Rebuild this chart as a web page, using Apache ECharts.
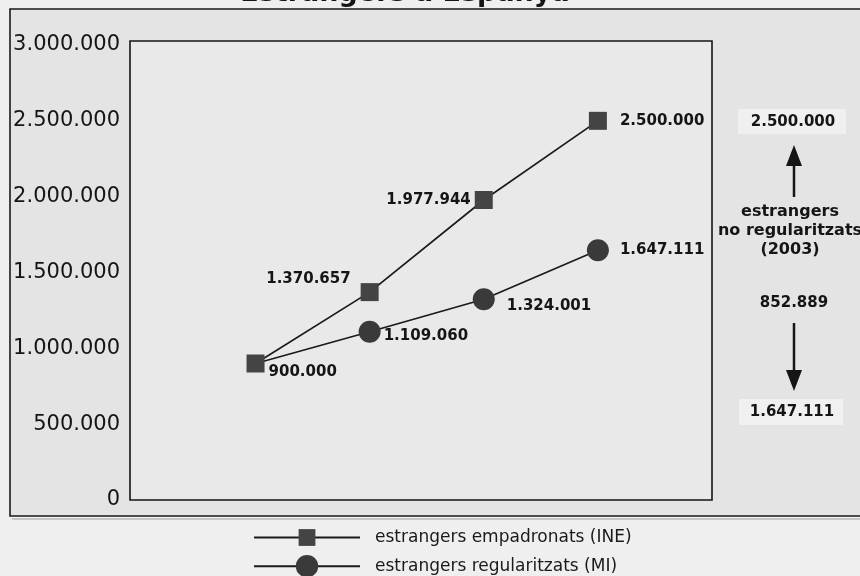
<!DOCTYPE html>
<html>
<head>
<meta charset="utf-8">
<script src="https://cdn.jsdelivr.net/npm/echarts@6/dist/echarts.min.js"></script>
<style>html,body{margin:0;padding:0;background:#efefef}#c{width:860px;height:576px}</style>
</head>
<body>
<div id="c"></div>
<script>
const titleText = 'Estrangers a Espanya';
const years = [2000, 2001, 2002, 2003];
const ineName = 'estrangers empadronats (INE)';
const ineValues = [900000, 1370657, 1977944, 2500000];
const miName = 'estrangers regularitzats (MI)';
const miValues = [900000, 1109060, 1324001, 1647111];
const yTicks = [0, 500000, 1000000, 1500000, 2000000, 2500000, 3000000];
const noteLines = ['estrangers', 'no regularitzats', '(2003)'];

function fmt(v) { return String(v).replace(/\B(?=(\d{3})+(?!\d))/g, '.'); }

const FONT = 'DejaVu Sans';
const ineLabel = [
  { position: 'right', distance: 4, offset: [0, 9] },
  { position: 'left', distance: 4, offset: [-6, -13] },
  { position: 'left', distance: 4, offset: [0, 0] },
  { position: 'right', distance: 13, offset: [0, 0] }
];
const miLabel = [
  { show: false },
  { position: 'right', distance: 3, offset: [0, 4] },
  { position: 'right', distance: 12, offset: [0, 7] },
  { position: 'right', distance: 11, offset: [0, 0] }
];

const last = years.length - 1;
const diff = ineValues[last] - miValues[last];

const chart = echarts.init(document.getElementById('c'));
chart.setOption({
  backgroundColor: '#efefef',
  animation: false,
  grid: {
    left: 130, right: 148, top: 45, bottom: 76,
    show: false
  },
  xAxis: {
    type: 'value', min: 1998.9, max: 2004.0,
    show: false
  },
  yAxis: {
    type: 'value', min: yTicks[0], max: yTicks[yTicks.length - 1], interval: 500000,
    axisLine: { show: false }, axisTick: { show: false }, splitLine: { show: false },
    axisLabel: { formatter: fmt, fontFamily: FONT, fontSize: 21, color: '#151515', margin: 10 }
  },
  legend: [
    {
      data: [ineName], orient: 'vertical', left: 248, top: 524,
      itemWidth: 106, itemHeight: 21,
      textStyle: { fontFamily: FONT, fontSize: 17, color: '#1a1a1a', padding: [0, 0, 0, 10] }
    },
    {
      data: [miName], orient: 'vertical', left: 248, top: 550,
      itemWidth: 106, itemHeight: 28,
      textStyle: { fontFamily: FONT, fontSize: 17, color: '#1a1a1a', padding: [0, 0, 0, 10] }
    }
  ],
  series: [
    {
      name: miName, type: 'line', z: 3,
      symbol: 'circle', symbolSize: 22,
      lineStyle: { color: '#1a1a1a', width: 1.7 },
      itemStyle: { color: '#3a3a3a' },
      data: years.map((y, i) => ({
        value: [y, miValues[i]],
        symbolSize: i === 0 ? 0 : 22,
        label: Object.assign({ show: true, formatter: p => fmt(p.value[1]),
          fontFamily: FONT, fontSize: 15, fontWeight: 'bold', color: '#151515' }, miLabel[i])
      }))
    },
    {
      name: ineName, type: 'line', z: 4,
      symbol: 'rect', symbolSize: 18,
      lineStyle: { color: '#1a1a1a', width: 1.7 },
      itemStyle: { color: '#444444' },
      data: years.map((y, i) => ({
        value: [y, ineValues[i]],
        label: Object.assign({ show: true, formatter: p => fmt(p.value[1]),
          fontFamily: FONT, fontSize: 15, fontWeight: 'bold', color: '#151515' }, ineLabel[i])
      }))
    }
  ],
  graphic: [
    { type: 'rect', z: -10, silent: true, shape: { x: 10, y: 9, width: 880, height: 507 },
      style: { fill: '#e4e4e4', stroke: '#1a1a1a', lineWidth: 1.6 } },
    { type: 'line', z: -9, silent: true, shape: { x1: 12, y1: 519, x2: 860, y2: 519 },
      style: { stroke: '#9a9a9a', lineWidth: 1 } },
    { type: 'rect', z: -8, silent: true, shape: { x: 130, y: 41, width: 582, height: 459 },
      style: { fill: '#e9e9e9', stroke: '#151515', lineWidth: 1.6 } },
    { type: 'text', z: 10, x: 405, y: 7,
      style: { text: titleText, font: 'bold 27px "DejaVu Sans"', fill: '#151515', align: 'center', verticalAlign: 'bottom' } },
    // right panel
    { type: 'rect', z: 1, shape: { x: 738, y: 109, width: 108, height: 25 }, style: { fill: '#f0f0f0' } },
    { type: 'text', z: 10, x: 793, y: 122,
      style: { text: fmt(ineValues[last]), font: 'bold 15px "DejaVu Sans"', fill: '#151515', align: 'center', verticalAlign: 'middle' } },
    { type: 'line', z: 10, shape: { x1: 794, y1: 197, x2: 794, y2: 160 }, style: { stroke: '#151515', lineWidth: 2.5 } },
    { type: 'polygon', z: 10, shape: { points: [[794, 145], [786, 166], [802, 166]] }, style: { fill: '#151515' } },
    { type: 'text', z: 10, x: 790, y: 231,
      style: { text: noteLines.join('\n'), font: 'bold 16px "DejaVu Sans"', lineHeight: 19, fill: '#151515', align: 'center', verticalAlign: 'middle' } },
    { type: 'text', z: 10, x: 794, y: 303,
      style: { text: fmt(diff), font: 'bold 15px "DejaVu Sans"', fill: '#151515', align: 'center', verticalAlign: 'middle' } },
    { type: 'line', z: 10, shape: { x1: 794, y1: 323, x2: 794, y2: 375 }, style: { stroke: '#151515', lineWidth: 2.5 } },
    { type: 'polygon', z: 10, shape: { points: [[794, 391], [786, 370], [802, 370]] }, style: { fill: '#151515' } },
    { type: 'rect', z: 1, shape: { x: 739, y: 399, width: 104, height: 26 }, style: { fill: '#f0f0f0' } },
    { type: 'text', z: 10, x: 792, y: 412,
      style: { text: fmt(miValues[last]), font: 'bold 15px "DejaVu Sans"', fill: '#151515', align: 'center', verticalAlign: 'middle' } }
  ]
});
</script>
</body>
</html>
